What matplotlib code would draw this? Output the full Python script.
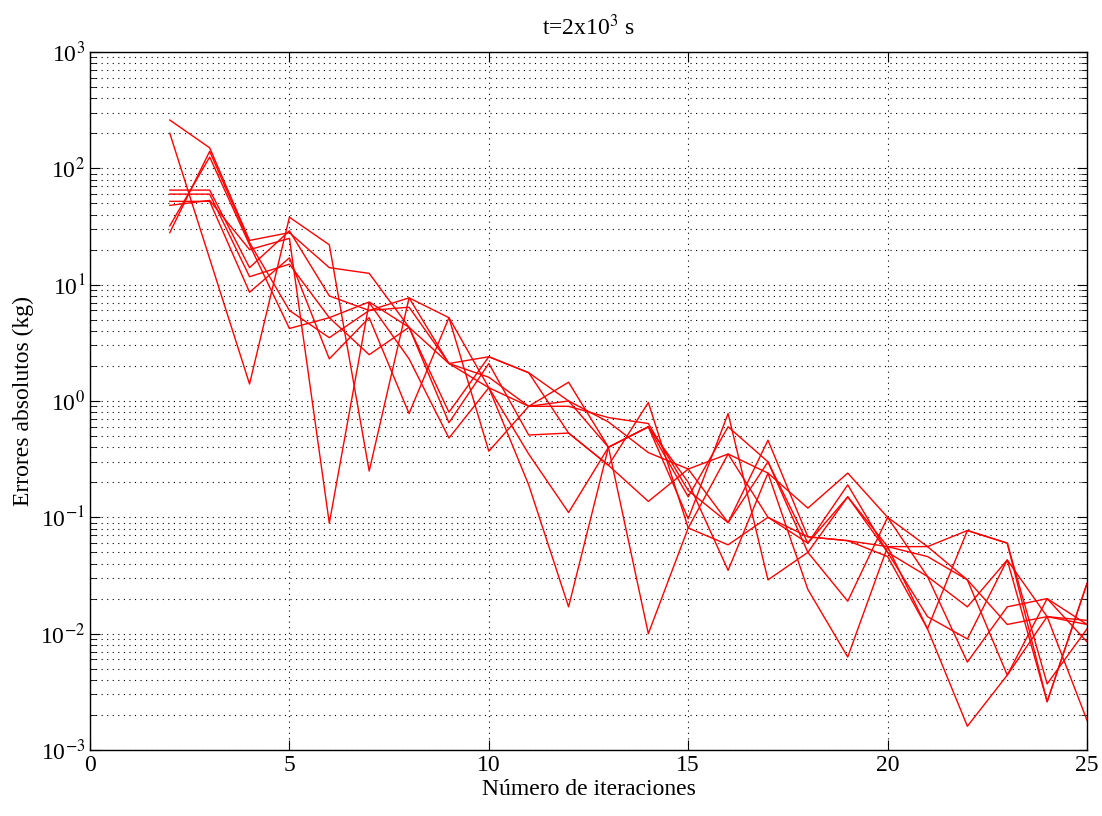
import numpy as np
import matplotlib
matplotlib.use('Agg')
import matplotlib.pyplot as plt
from matplotlib.ticker import LogLocator, NullFormatter, FuncFormatter

plt.rcParams['font.family'] = ['Liberation Serif', 'DejaVu Serif']
plt.rcParams['mathtext.fontset'] = 'stix'

iteraciones = list(range(2, 26))

# errores absolutos (kg), una serie por variable
serie_1 = [260, 150, 24, 28, 14, 12.5, 4.3, 2.1, 2.4, 1.75, 1.0, 0.66, 0.36, 0.26, 0.35, 0.24, 0.12, 0.24, 0.1, 0.056, 0.077, 0.06, 0.0037, 0.011]
serie_2 = [200, 16.7, 1.4, 38, 22, 0.25, 7.7, 5.2, 0.37, 0.9, 1.45, 0.4, 0.6, 0.15, 0.6, 0.3, 0.05, 0.15, 0.05, 0.031, 0.0057, 0.017, 0.02, 0.0085]
serie_3 = [65, 65, 14, 29, 8, 6, 6.4, 2.1, 1.6, 0.9, 0.9, 0.72, 0.64, 0.17, 0.09, 0.46, 0.068, 0.063, 0.056, 0.046, 0.029, 0.012, 0.014, 0.012]
serie_4 = [60, 60, 11.7, 15, 5.2, 7.1, 4.3, 0.65, 2.1, 0.51, 0.53, 0.28, 0.97, 0.081, 0.058, 0.1, 0.06, 0.19, 0.05, 0.014, 0.009, 0.043, 0.0026, 0.027]
serie_5 = [52, 52, 8.6, 17, 2.3, 5.2, 0.78, 5.2, 1.3, 0.35, 0.11, 0.4, 0.6, 0.2, 0.035, 0.24, 0.024, 0.0063, 0.056, 0.011, 0.0016, 0.0044, 0.014, 0.013]
serie_6 = [48, 53, 20, 25, 0.089, 7, 2.3, 0.48, 1.3, 0.19, 0.017, 0.4, 0.6, 0.097, 0.78, 0.029, 0.05, 0.019, 0.1, 0.031, 0.017, 0.043, 0.014, 0.0018]
serie_7 = [32, 125, 22, 4.2, 5.2, 2.5, 4.3, 0.8, 2.4, 1.75, 0.53, 0.28, 0.137, 0.26, 0.09, 0.3, 0.06, 0.15, 0.056, 0.056, 0.029, 0.0044, 0.02, 0.012]
serie_8 = [28, 140, 23, 6, 3.5, 6, 7.7, 2.1, 1.3, 0.9, 1.0, 0.4, 0.01, 0.081, 0.35, 0.1, 0.068, 0.063, 0.046, 0.011, 0.077, 0.06, 0.0026, 0.027]

series = [serie_1, serie_2, serie_3, serie_4, serie_5, serie_6, serie_7, serie_8]

fig = plt.figure(figsize=(11.02, 8.16), dpi=100)
ax = fig.add_axes([0.0817, 0.0809, 0.9047, 0.8554])

for s in series:
    ax.semilogy(iteraciones, s, color='red', linewidth=1.0)

ax.set_xlim(0, 25)
ax.set_ylim(1e-3, 1e3)
ax.set_xticks([0, 5, 10, 15, 20, 25])
ax.yaxis.set_major_locator(LogLocator(base=10, numticks=10))
ax.yaxis.set_major_formatter(FuncFormatter(lambda v, p: '10$^{%d}$' % round(np.log10(v))))
ax.yaxis.set_minor_locator(LogLocator(base=10, subs=np.arange(2, 10), numticks=100))
ax.yaxis.set_minor_formatter(NullFormatter())

dots = (0, (1, 4))
ax.grid(True, which='major', axis='both', linestyle=dots, color='black', linewidth=0.8)
ax.grid(True, which='minor', axis='y', linestyle=dots, color='black', linewidth=0.8)

ax.tick_params(which='both', direction='in', top=True, right=True, labelsize=17)
ax.tick_params(which='major', length=7)
ax.tick_params(which='minor', length=4)
for sp in ax.spines.values():
    sp.set_linewidth(1.0)

ax.set_title('t=2x10$^{3}$ s', fontsize=17, pad=12)
ax.set_xlabel('Número de iteraciones', fontsize=17, labelpad=2)
ax.set_ylabel('Errores absolutos (kg)', fontsize=17, labelpad=4)

fig.savefig('out.png', dpi=100)
